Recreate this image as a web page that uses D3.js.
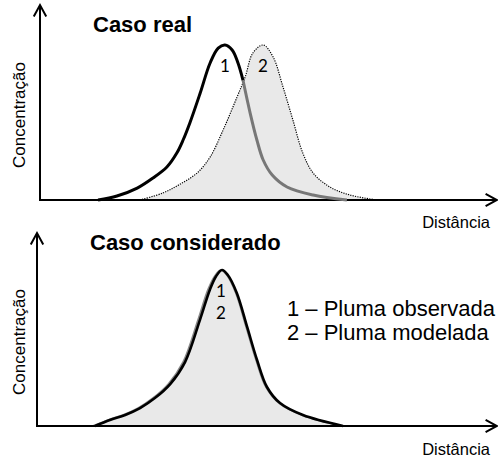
<!DOCTYPE html>
<meta charset="utf-8">
<style>
  body { margin: 0; background: #fff; }
  text { font-family: "Liberation Sans", Arial, sans-serif; fill: #000; }
</style>
<svg width="498" height="457"></svg>
<script src="https://d3js.org/d3.v7.min.js"></script>
<script>

// "Caso real": observed plume (1) and modelled plume (2), distance vs concentration (arbitrary units)
var obsX = [12.9, 17.1, 21.6, 25.1, 28.2, 30.4, 31.8, 33.3, 35.6, 37.8, 39.6, 41.1, 42.7, 44, 45.1, 46.7, 48.2, 49.6, 51.6, 54.9, 60.7, 68.2];
var obsY = [0, 2.6, 7.7, 14.2, 21.3, 30.3, 38.7, 49.7, 69, 88.4, 98, 100, 96.8, 88.4, 77.4, 56.1, 38.7, 25.8, 16.1, 8.4, 3.2, 0];
var crossAt = 14; // observed curve goes under the modelled one here
var modX = [22.2, 27.3, 31, 34.9, 37.8, 40.7, 43.8, 45.6, 47.3, 49.6, 51.8, 54, 56.2, 58.4, 60.7, 64.4, 68.9, 74.9];
var modY = [0, 4.5, 10, 17.4, 27.7, 45.2, 66.5, 79.4, 94.8, 100, 92.3, 72.9, 51.6, 30.3, 17.4, 8.4, 3.2, 0];

// "Caso considerado": both plumes almost on top of each other
var obs2X = [12.9, 16.2, 19.6, 22.9, 26.2, 29.6, 32.9, 36.2, 38.4, 39.8, 41.1, 42.4, 44.4, 46.7, 48.9, 51.1, 54, 59.1, 68];
var obs2Y = [0, 3.8, 7.1, 11.5, 17.9, 26.9, 41, 67.9, 87.2, 96, 100, 96.8, 85.3, 63.5, 42.3, 25, 14.7, 7, 0];
var mod2X = [12.5, 15.8, 19.2, 22.5, 25.8, 29.2, 32.5, 35.8, 38.0, 39.5, 40.9, 42.2, 44.2, 46.5, 48.7, 50.9, 53.8, 58.9, 67.8];
var mod2Y = [0, 3.8, 7.1, 11.5, 17.9, 26.9, 41, 67.9, 87.2, 96, 100, 96.8, 85.3, 63.5, 42.3, 25, 14.7, 7, 0];

var legendLabels = ["1 \u2013 Pluma observada", "2 \u2013 Pluma modelada"];

var svg = d3.select("svg");

function arrow(g, x1, y1, x2, y2) {
	g.append("line")
		.attr("x1", x1).attr("y1", y1).attr("x2", x2).attr("y2", y2)
		.attr("stroke", "#000").attr("stroke-width", 2);
	var a = Math.atan2(y2 - y1, x2 - x1), len = 13, spread = 0.5;
	g.append("path")
		.attr("d", "M" + (x2 - len * Math.cos(a - spread)) + "," + (y2 - len * Math.sin(a - spread)) +
			"L" + x2 + "," + y2 +
			"L" + (x2 - len * Math.cos(a + spread)) + "," + (y2 - len * Math.sin(a + spread)))
		.attr("fill", "none").attr("stroke", "#000").attr("stroke-width", 2);
}

function panel(p) {
	var g = svg.append("g");
	var x = d3.scaleLinear().domain([0, 100]).range([p.ox, p.ox + 450]);
	var y = d3.scaleLinear().domain([0, 100]).range([p.base, p.base - p.h]);
	var curve = d3.curveCatmullRom.alpha(0.5);

	var line = d3.line().x(function(d) { return x(d[0]); }).y(function(d) { return y(d[1]); }).curve(curve);
	var area = d3.area().x(function(d) { return x(d[0]); }).y0(y(0)).y1(function(d) { return y(d[1]); }).curve(curve);

	var mod = d3.zip(p.modX, p.modY), obs = d3.zip(p.obsX, p.obsY);

	g.append("path").attr("d", area(mod)).attr("fill", "#e9e9e9");
	g.append("path").attr("d", line(mod)).attr("fill", "none")
		.attr("stroke", p.modStroke).attr("stroke-width", p.modWidth)
		.attr("stroke-dasharray", p.modDash);

	// axes
	arrow(g, p.ox, p.base + 1, p.ox, p.top);
	arrow(g, p.ox - 1, p.base, 497, p.base);

	if (p.crossAt != null) {
		g.append("path").attr("d", line(obs.slice(p.crossAt))).attr("fill", "none")
			.attr("stroke", "#777").attr("stroke-width", 3);
		g.append("path").attr("d", line(obs.slice(0, p.crossAt + 1))).attr("fill", "none")
			.attr("stroke", "#000").attr("stroke-width", 3);
	} else {
		g.append("path").attr("d", line(obs)).attr("fill", "none")
			.attr("stroke", "#000").attr("stroke-width", 2.6);
	}

	// numbers on the peaks
	p.nums.forEach(function(n) {
		g.append("text").attr("x", n.x).attr("y", n.y)
			.attr("text-anchor", "middle")
			.style("font-family", "Lato, 'Open Sans', sans-serif")
			.style("font-size", "17px")
			.text(n.t);
	});

	g.append("text").attr("x", p.titleX).attr("y", p.titleY)
		.attr("font-weight", "bold").style("font-size", "22px")
		.text(p.title);

	g.append("text").attr("transform", "translate(" + p.ylabX + "," + p.ylabY + ") rotate(-90)")
		.attr("text-anchor", "middle").style("font-size", "17px")
		.text("Concentração");

	g.append("text").attr("x", 490).attr("y", p.xlabY)
		.attr("text-anchor", "end").style("font-size", "16.5px")
		.text("Distância");
	return g;
}

panel({
	ox: 40, base: 200, h: 155, top: 5,
	obsX: obsX, obsY: obsY, modX: modX, modY: modY, crossAt: crossAt,
	modStroke: "#000", modWidth: 1.2, modDash: "1.2,1.2",
	nums: [{t: "1", x: 225, y: 72}, {t: "2", x: 263, y: 72}],
	title: "Caso real", titleX: 93, titleY: 32,
	ylabX: 25, ylabY: 115, xlabY: 228
});

var bottom = panel({
	ox: 37, base: 426, h: 156, top: 233,
	obsX: obs2X, obsY: obs2Y, modX: mod2X, modY: mod2Y, crossAt: null,
	modStroke: "#888", modWidth: 2, modDash: null,
	nums: [{t: "1", x: 221, y: 297}, {t: "2", x: 221, y: 319}],
	title: "Caso considerado", titleX: 90, titleY: 250,
	ylabX: 25, ylabY: 342, xlabY: 455
});

bottom.selectAll(".legend")
	.data(legendLabels)
	.enter().append("text")
	.attr("class", "legend")
	.attr("x", 287)
	.attr("y", function(d, i) { return 316 + i * 24; })
	.style("font-size", "22px")
	.text(function(d) { return d; });

</script>
